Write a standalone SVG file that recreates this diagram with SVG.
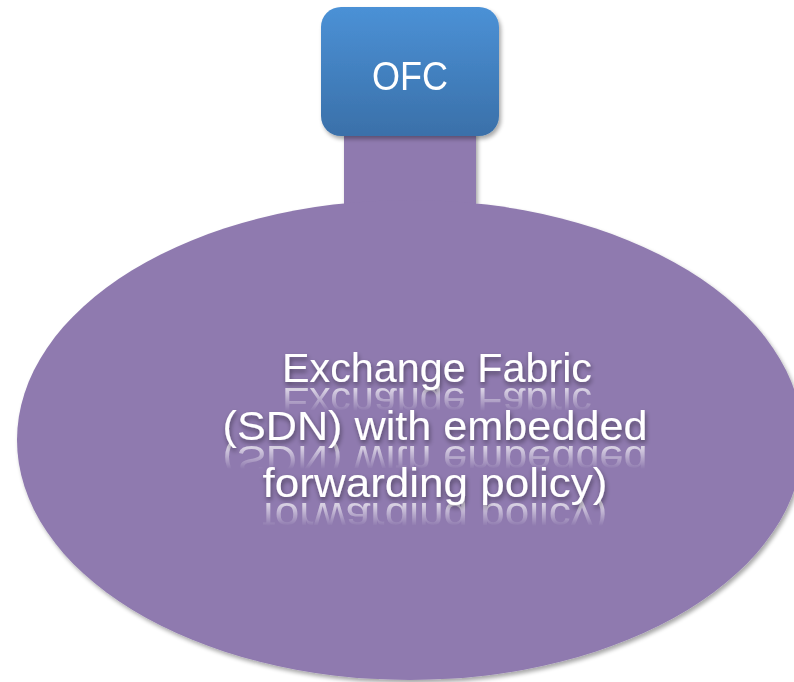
<svg xmlns="http://www.w3.org/2000/svg" width="794" height="682" viewBox="0 0 794 682">
<defs>
<linearGradient id="boxg" x1="0" y1="0" x2="0" y2="1">
<stop offset="0" stop-color="#4b91d6"/>
<stop offset="1" stop-color="#3a70a9"/>
</linearGradient>
<filter id="sh" x="-10%" y="-10%" width="120%" height="120%">
<feGaussianBlur in="SourceAlpha" stdDeviation="2"/>
<feOffset dx="2" dy="3" result="b"/>
<feComponentTransfer><feFuncA type="linear" slope="0.35"/></feComponentTransfer>
<feMerge><feMergeNode/><feMergeNode in="SourceGraphic"/></feMerge>
</filter>
<filter id="tsh" x="-10%" y="-20%" width="120%" height="140%">
<feGaussianBlur in="SourceAlpha" stdDeviation="2.5"/>
<feOffset dx="1" dy="3" result="b"/>
<feComponentTransfer><feFuncA type="linear" slope="0.45"/></feComponentTransfer>
<feMerge><feMergeNode/><feMergeNode in="SourceGraphic"/></feMerge>
</filter>
<linearGradient id="fade" x1="0" y1="0" x2="0" y2="1">
<stop offset="0" stop-color="#fff" stop-opacity="0.8"/>
<stop offset="1" stop-color="#fff" stop-opacity="0"/>
</linearGradient>
<mask id="m1" maskUnits="userSpaceOnUse" x="0" y="0" width="794" height="682">
<rect x="200" y="385" width="480" height="26" fill="url(#fade)"/>
</mask>
<mask id="m2" maskUnits="userSpaceOnUse" x="0" y="0" width="794" height="682">
<rect x="200" y="443" width="480" height="26" fill="url(#fade)"/>
</mask>
<mask id="m3" maskUnits="userSpaceOnUse" x="0" y="0" width="794" height="682">
<rect x="200" y="500" width="480" height="26" fill="url(#fade)"/>
</mask>
<style>
.t{font-family:"Liberation Sans","Open Sans",sans-serif;font-size:41px;fill:#ffffff;text-anchor:middle}
</style>
</defs>
<g id="fabric" filter="url(#sh)">
<path d="M344,132 L476,132 L476,210 L344,210 Z" fill="#8f7aaf"/>
<ellipse cx="410" cy="440" rx="393" ry="240" fill="#8f7aaf"/>
</g>
<g id="ofc" filter="url(#sh)">
<rect x="321" y="7" width="178" height="129" rx="20" ry="20" fill="url(#boxg)"/>
<text class="t" x="410" y="90" textLength="76" lengthAdjust="spacingAndGlyphs">OFC</text>
</g>
<g id="label">
<g mask="url(#m1)"><text class="t" transform="translate(0,770) scale(1,-1)" x="437" y="382" textLength="310" lengthAdjust="spacingAndGlyphs">Exchange Fabric</text></g>
<g mask="url(#m2)"><text class="t" transform="translate(0,886) scale(1,-1)" x="435" y="440" textLength="425" lengthAdjust="spacingAndGlyphs">(SDN) with embedded</text></g>
<g mask="url(#m3)"><text class="t" transform="translate(0,1000) scale(1,-1)" x="435" y="497" textLength="345" lengthAdjust="spacingAndGlyphs">forwarding policy)</text></g>
<g filter="url(#tsh)">
<text class="t" x="437" y="382" textLength="310" lengthAdjust="spacingAndGlyphs">Exchange Fabric</text>
<text class="t" x="435" y="440" textLength="425" lengthAdjust="spacingAndGlyphs">(SDN) with embedded</text>
<text class="t" x="435" y="497" textLength="345" lengthAdjust="spacingAndGlyphs">forwarding policy)</text>
</g>
</g>
</svg>
